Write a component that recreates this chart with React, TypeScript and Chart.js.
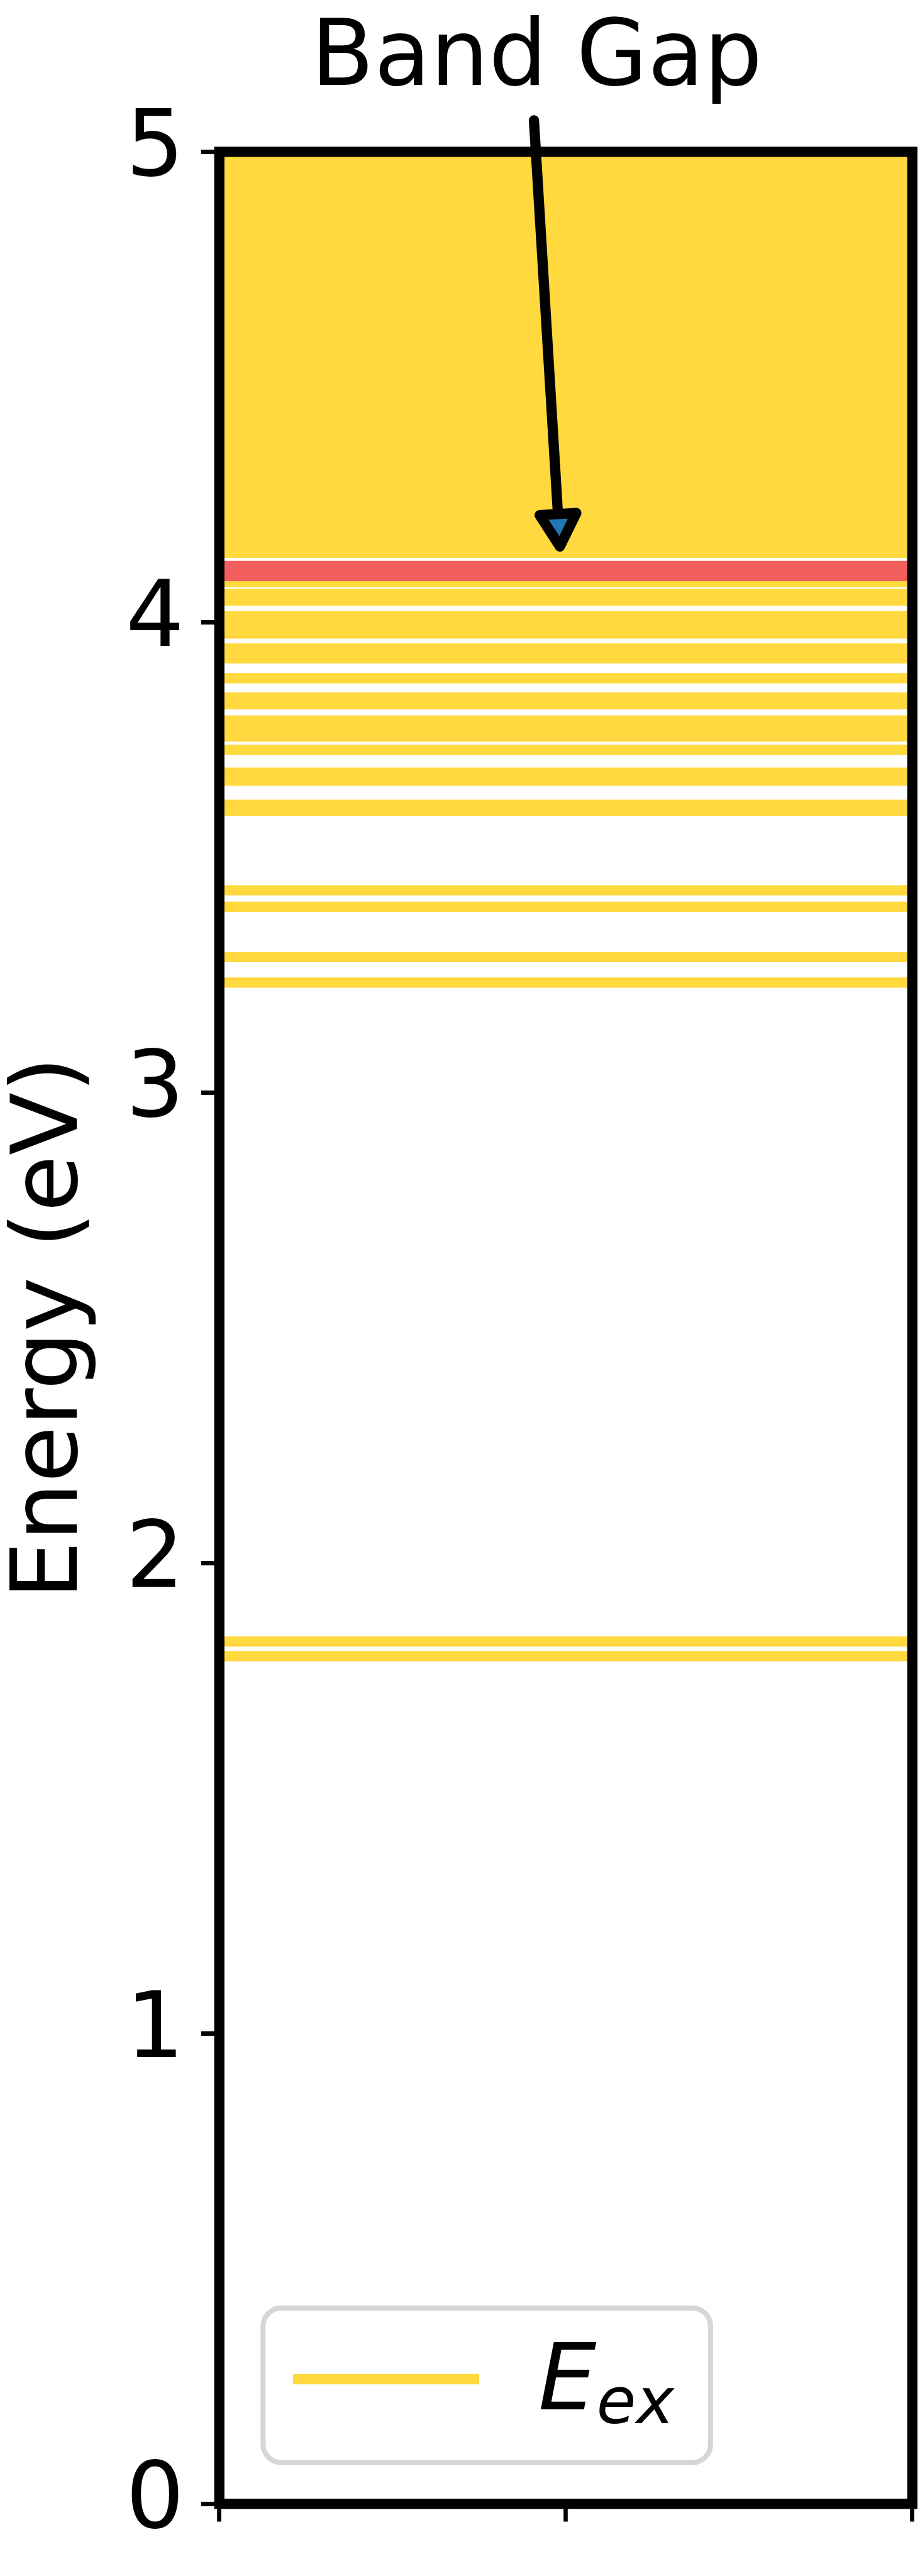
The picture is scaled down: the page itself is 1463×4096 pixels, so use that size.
import React, { useEffect, useRef } from "react";
import { Chart, registerables } from "chart.js";

Chart.register(...registerables);

// ---------- sizing ----------
const S = 0.975;
const WIDTH = 1463;
const HEIGHT = 4096;
const FONT = "DejaVu Sans";

// ---------- data ----------
const Y_TICKS = [0, 1, 2, 3, 4, 5];
const X_TICKS = [0, 0.5, 1];
const Y_TITLE = "Energy (eV)";
const LEGEND_LABEL_MAIN = "E";
const LEGEND_LABEL_SUB = "ex";
const ANNOTATION_TEXT = "Band Gap";

// excitation energies (eV)
const EXCITATION_ENERGIES = [
  1.802, 1.833, 3.234, 3.288, 3.395, 3.43, 3.599, 3.612, 3.663, 3.68, 3.729,
  3.757, 3.774, 3.791, 3.826, 3.84, 3.881, 3.923, 3.944, 3.976, 3.995, 4.013,
  4.046, 4.06, 4.085,
];
const BAND_GAP = 4.109;
const CONTINUUM = [4.137, 5.0];
const ARROW_TAIL = [0.454, 5.067];
const ARROW_TIP = [0.4915, 4.161];
const LABEL_POS = [0.458, 5.142];

// ---------- colours ----------
const YELLOW = "#FFD93D";
const RED = "#F25F5C";
const BLUE = "#1f77b4";

function line(e: number) {
  return [
    { x: 0, y: e },
    { x: 1, y: e },
  ];
}

const overlay = {
  id: "overlay",
  afterDraw(chart: any) {
    const { ctx, chartArea: a, scales } = chart;
    const x = scales.x;
    const y = scales.y;
    ctx.save();

    // frame (spines)
    ctx.strokeStyle = "#000";
    ctx.lineWidth = 16.7 * S;
    ctx.lineJoin = "miter";
    ctx.strokeRect(a.left, a.top, a.right - a.left, a.bottom - a.top);

    // arrow
    const tx = x.getPixelForValue(ARROW_TAIL[0]);
    const ty = y.getPixelForValue(ARROW_TAIL[1]);
    const hx = x.getPixelForValue(ARROW_TIP[0]);
    const hy = y.getPixelForValue(ARROW_TIP[1]);
    const dx = hx - tx;
    const dy = hy - ty;
    const len = Math.hypot(dx, dy);
    const ux = dx / len;
    const uy = dy / len;
    const px = -uy;
    const py = ux;
    const headLen = 53 * S;
    const headHalf = 30 * S;
    const bx = hx - ux * headLen;
    const by = hy - uy * headLen;
    ctx.lineCap = "round";
    ctx.lineWidth = 16.7 * S;
    ctx.beginPath();
    ctx.moveTo(tx, ty);
    ctx.lineTo(bx, by);
    ctx.stroke();
    ctx.beginPath();
    ctx.moveTo(hx, hy);
    ctx.lineTo(bx + px * headHalf, by + py * headHalf);
    ctx.lineTo(bx - px * headHalf, by - py * headHalf);
    ctx.closePath();
    ctx.fillStyle = BLUE;
    ctx.fill();
    ctx.lineJoin = "round";
    ctx.stroke();

    // annotation text
    ctx.font = `${150 * S}px "${FONT}"`;
    ctx.fillStyle = "#000";
    ctx.textAlign = "center";
    ctx.textBaseline = "alphabetic";
    ctx.fillText(
      ANNOTATION_TEXT,
      x.getPixelForValue(LABEL_POS[0]),
      y.getPixelForValue(LABEL_POS[1])
    );

    // legend
    const lx0 = 429 * S;
    const ly0 = 3764 * S;
    const lx1 = 1159 * S;
    const ly1 = 4016 * S;
    const r = 30 * S;
    ctx.beginPath();
    ctx.moveTo(lx0 + r, ly0);
    ctx.lineTo(lx1 - r, ly0);
    ctx.arcTo(lx1, ly0, lx1, ly0 + r, r);
    ctx.lineTo(lx1, ly1 - r);
    ctx.arcTo(lx1, ly1, lx1 - r, ly1, r);
    ctx.lineTo(lx0 + r, ly1);
    ctx.arcTo(lx0, ly1, lx0, ly1 - r, r);
    ctx.lineTo(lx0, ly0 + r);
    ctx.arcTo(lx0, ly0, lx0 + r, ly0, r);
    ctx.closePath();
    ctx.fillStyle = "rgba(255,255,255,0.8)";
    ctx.fill();
    ctx.strokeStyle = "#d6d6d6";
    ctx.lineWidth = 8.3 * S;
    ctx.stroke();

    ctx.strokeStyle = YELLOW;
    ctx.lineWidth = 16.7 * S;
    ctx.lineCap = "butt";
    ctx.beginPath();
    ctx.moveTo(478 * S, 3880 * S);
    ctx.lineTo(781.6 * S, 3880 * S);
    ctx.stroke();

    ctx.fillStyle = "#000";
    ctx.textAlign = "left";
    ctx.font = `italic ${150 * S}px "${FONT}"`;
    const ex = 878 * S;
    ctx.fillText(LEGEND_LABEL_MAIN, ex, 3929 * S);
    const ew = ctx.measureText(LEGEND_LABEL_MAIN).width;
    ctx.font = `italic ${105 * S}px "${FONT}"`;
    ctx.fillText(LEGEND_LABEL_SUB, ex + ew, 3952 * S);

    ctx.restore();
  },
};

export default function App() {
  const ref = useRef<HTMLCanvasElement | null>(null);

  useEffect(() => {
    if (!ref.current) return;
    Chart.defaults.font.family = FONT;
    Chart.defaults.color = "#000";

    const datasets: any[] = [
      {
        label: "continuum",
        data: line(CONTINUUM[1]),
        borderWidth: 0,
        borderColor: "rgba(0,0,0,0)",
        backgroundColor: YELLOW,
        fill: { value: CONTINUUM[0] },
        pointRadius: 0,
        order: 2,
      },
      ...EXCITATION_ENERGIES.map((e, i) => ({
        label: i === 0 ? "E_ex" : "",
        data: line(e),
        borderColor: YELLOW,
        backgroundColor: YELLOW,
        borderWidth: 16.7 * S,
        borderCapStyle: "butt",
        pointRadius: 0,
        fill: false,
        order: 1,
      })),
      {
        label: "band gap",
        data: line(BAND_GAP),
        borderColor: RED,
        backgroundColor: RED,
        borderWidth: 33 * S,
        borderCapStyle: "butt",
        pointRadius: 0,
        fill: false,
        order: 0,
      },
    ];

    const chart = new Chart(ref.current, {
      type: "line",
      data: { datasets },
      options: {
        animation: false,
        responsive: false,
        devicePixelRatio: 1,
        events: [],
        layout: {
          padding: {
            top: 247.6 * S,
            right: WIDTH - 1488 * S,
            left: 0,
            bottom: 0,
          },
        },
        plugins: {
          legend: { display: false },
          tooltip: { enabled: false },
        },
        scales: {
          x: {
            type: "linear",
            min: 0,
            max: 1,
            afterBuildTicks: (sc: any) => {
              sc.ticks = X_TICKS.map((v) => ({ value: v }));
            },
            ticks: { display: false },
            grid: {
              display: true,
              drawOnChartArea: false,
              drawTicks: true,
              tickLength: 29 * S,
              tickWidth: 6.8 * S,
              tickColor: "#000",
            },
            border: { display: false },
            afterFit: (sc: any) => {
              sc.height = HEIGHT - 4087 * S;
            },
          },
          y: {
            type: "linear",
            min: 0,
            max: 5,
            afterBuildTicks: (sc: any) => {
              sc.ticks = Y_TICKS.map((v) => ({ value: v }));
            },
            ticks: {
              font: { family: FONT, size: 150 * S },
              color: "#000",
              padding: 27,
              autoSkip: false,
              callback: (v: any) => String(v),
            },
            grid: {
              display: true,
              drawOnChartArea: false,
              drawTicks: true,
              tickLength: 29.5 * S,
              tickWidth: 7.3 * S,
              tickColor: "#000",
            },
            border: { display: false },
            title: {
              display: true,
              text: Y_TITLE,
              color: "#000",
              font: { family: FONT, size: 150 * S, lineHeight: 1 },
              padding: { top: 11, bottom: 0 },
            },
            afterFit: (sc: any) => {
              sc.width = 357.7 * S;
            },
          },
        },
      } as any,
      plugins: [overlay],
    });

    return () => chart.destroy();
  }, []);

  return (
    <div
      style={{
        position: "absolute",
        left: 0,
        top: 0,
        width: WIDTH,
        height: HEIGHT,
        background: "#fff",
      }}
    >
      <canvas
        ref={ref}
        width={WIDTH}
        height={HEIGHT}
        style={{ display: "block", width: WIDTH, height: HEIGHT }}
      />
    </div>
  );
}
